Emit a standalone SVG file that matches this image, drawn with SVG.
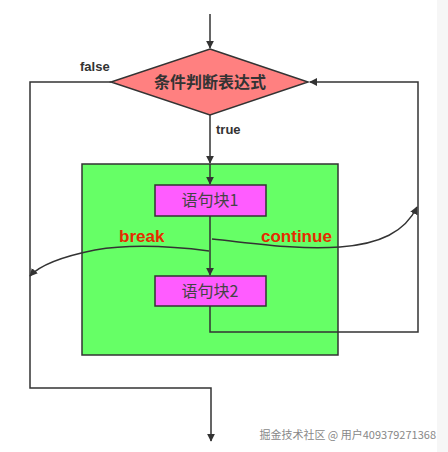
<svg xmlns="http://www.w3.org/2000/svg" width="448" height="452" viewBox="0 0 448 452">
<style>
.ln{fill:none;stroke:#333;stroke-width:1.5}
.lbl{font-family:"Liberation Sans","Noto Sans CJK SC",sans-serif;font-weight:bold;font-size:13px;fill:#333}
.red{font-family:"Liberation Sans",sans-serif;font-weight:bold;font-size:17px;fill:#e52b00}
.blk{fill:#ff5cff;stroke:#333;stroke-width:1.5}
.bt{font-family:"Noto Sans CJK SC",sans-serif;font-size:16px;fill:#444;text-anchor:middle}
</style>
<defs>
<marker id="ah" viewBox="0 0 10 10" refX="9" refY="5" markerWidth="8" markerHeight="8" markerUnits="userSpaceOnUse" orient="auto">
<path d="M0,0 L10,5 L0,10 z" fill="#333"/>
</marker>
</defs>
<rect x="0" y="0" width="448" height="452" fill="#fff"/>
<rect x="437" y="0" width="11" height="452" fill="#f6f6f6"/>
<g id="loopbox">
<rect x="82" y="164" width="256" height="191" fill="#66ff66" stroke="#333" stroke-width="1.5"/>
</g>
<g id="connectors">
<path class="ln" d="M210,14 V48" marker-end="url(#ah)"/>
<path class="ln" d="M210,115 V163" marker-end="url(#ah)"/>
<path class="ln" d="M210,164 V184" marker-end="url(#ah)"/>
<path class="ln" d="M210,216 V275" marker-end="url(#ah)"/>
<path class="ln" d="M111,82 H30 V388 H211 V441" marker-end="url(#ah)"/>
<path class="ln" d="M210,306 V332 H418 V82 H310" marker-end="url(#ah)"/>
<path class="ln" d="M209,251 C170,246 130,244 95,250 C65,256 40,265 30,276" marker-end="url(#ah)"/>
<path class="ln" d="M212,239 C260,244 300,250 340,247 C380,244 405,232 417,207" marker-end="url(#ah)"/>
</g>
<g id="cond">
<polygon points="210,49 308,82 210,115 111,82" fill="#ff8080" stroke="#333" stroke-width="1.5"/>
<text x="210" y="88" text-anchor="middle" font-family="Noto Sans CJK SC,sans-serif" font-weight="bold" font-size="16" fill="#333">条件判断表达式</text>
</g>
<g id="block1">
<rect class="blk" x="155" y="185" width="111" height="31"/>
<text class="bt" x="210" y="206">语句块1</text>
</g>
<g id="block2">
<rect class="blk" x="155" y="276" width="111" height="30"/>
<text class="bt" x="210" y="297">语句块2</text>
</g>
<g id="labels">
<text class="lbl" x="80" y="71">false</text>
<text class="lbl" x="216" y="134">true</text>
<text class="red" x="119" y="242">break</text>
<text class="red" x="261" y="242">continue</text>
</g>
<text x="436" y="439" text-anchor="end" font-family="Noto Sans CJK SC,sans-serif" font-size="11" fill="#888">掘金技术社区 @ 用户409379271368</text>
</svg>
